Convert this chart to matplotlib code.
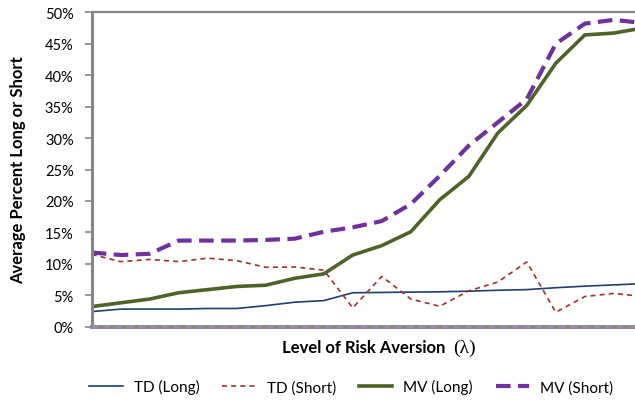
import numpy as np
import matplotlib
matplotlib.use("Agg")
import matplotlib.pyplot as plt
from matplotlib.ticker import PercentFormatter

plt.rcParams['font.family'] = ['Lato', 'DejaVu Sans']

# values in percent, one per level of risk aversion
td_long = [2.4, 2.8, 2.8, 2.8, 2.9, 2.9, 3.35, 3.9, 4.15, 5.4,
           5.45, 5.5, 5.55, 5.65, 5.8, 5.9, 6.2, 6.45, 6.65, 6.85]
td_short = [11.5, 10.35, 10.7, 10.35, 10.9, 10.5, 9.45, 9.5, 9.0, 3.0,
            8.0, 4.4, 3.25, 5.7, 7.1, 10.3, 2.3, 4.8, 5.3, 4.8]
mv_long = [3.2, 3.8, 4.4, 5.4, 5.9, 6.4, 6.6, 7.7, 8.4, 11.4,
           12.9, 15.1, 20.2, 23.9, 30.8, 35.2, 41.9, 46.4, 46.7, 47.5]
mv_short = [11.8, 11.4, 11.6, 13.7, 13.7, 13.7, 13.8, 14.0, 15.1, 15.8,
            16.8, 19.5, 24.0, 28.8, 32.5, 36.2, 45.0, 48.2, 48.8, 48.3]

x = np.arange(len(td_long))

fig = plt.figure(figsize=(6.35, 4.02), dpi=100)
ax = fig.add_axes([0.1444, 0.1848, 0.8556, 0.7821])

ax.plot(x, td_long, color='#1F3F6E', lw=1.2, label='TD (Long)')
ax.plot(x, td_short, color='#993333', lw=1.2, dashes=(3, 2.5), label='TD (Short)')
ax.plot(x, mv_long, color='#4F6228', lw=2.6, label='MV (Long)')
ax.plot(x, mv_short, color='#7030A0', lw=3.0, dashes=(3.5, 1.8), label='MV (Short)')

ax.set_xlim(0, 18.73)
ax.set_ylim(0, 50)
ax.set_yticks(np.arange(0, 51, 5))
ax.yaxis.set_major_formatter(PercentFormatter(decimals=0))
ax.set_xticks([])

for s in ['left', 'top', 'bottom']:
    ax.spines[s].set_color('#868686')
ax.spines['left'].set_linewidth(2.2)
ax.spines['top'].set_linewidth(1.6)
ax.spines['bottom'].set_linewidth(2.8)
ax.spines['right'].set_visible(False)
ax.axhline(0, color='#a48cc0', lw=1.2, dashes=(4, 3), clip_on=False, zorder=5)

ax.tick_params(axis='y', length=5, width=1.2, color='#868686', pad=8,
               labelsize=10.5, labelcolor='#000000')

fig.text(0.028, 0.577, 'Average Percent Long or Short', rotation=90, ha='center', va='center',
         fontsize=12, fontweight='bold')
fig.text(0.701, 0.134, 'Level of Risk Aversion', ha='right', va='center',
         fontsize=12, fontweight='bold')
fig.text(0.714, 0.134, '(λ)', ha='left', va='center', fontsize=14,
         family=['Liberation Serif', 'DejaVu Serif'])

fig.legend(loc='center', bbox_to_anchor=(0.553, 0.035), ncol=4, frameon=False,
           fontsize=11, handlelength=2.2, columnspacing=1.5, handletextpad=0.7)

fig.savefig('out.png', dpi=100)
